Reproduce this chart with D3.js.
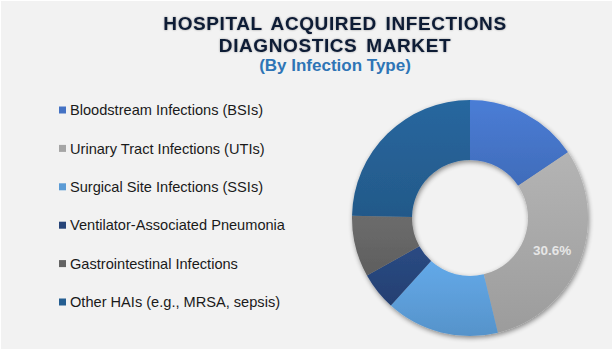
<!DOCTYPE html>
<html><head><meta charset="utf-8">
<script src="https://cdn.jsdelivr.net/npm/d3@7"></script>
<style>html,body{margin:0;padding:0;background:#fff;}svg{display:block;font-family:"Liberation Sans",Arial,sans-serif;}</style>
</head><body>
<svg id="chart" width="613" height="351"></svg>
<script>
const categories = ["Bloodstream Infections (BSIs)", "Urinary Tract Infections (UTIs)", "Surgical Site Infections (SSIs)", "Ventilator-Associated Pneumonia", "Gastrointestinal Infections", "Other HAIs (e.g., MRSA, sepsis)"];
const shares = [15.6, 30.6, 15.5, 5.2, 8.4, 24.7];
const shownLabels = ["", "30.6%", "", "", "", ""];
const colors = ["#4472C4", "#A5A5A5", "#5B9BD5", "#264478", "#636363", "#255E91"];
const titleLines = ["HOSPITAL ACQUIRED INFECTIONS", "DIAGNOSTICS MARKET"];
const subtitle = "(By Infection Type)";

const svg = d3.select("#chart");
svg.append("rect").attr("x", 1).attr("y", 1).attr("width", 611).attr("height", 348).attr("fill", "#F2F2F2");

const defs = svg.append("defs");
const shadow = defs.append("filter").attr("id", "shadow").attr("x", "-20%").attr("y", "-20%").attr("width", "140%").attr("height", "140%");
shadow.append("feGaussianBlur").attr("in", "SourceAlpha").attr("stdDeviation", 2.5);
shadow.append("feOffset").attr("dx", 1).attr("dy", 2).attr("result", "ob");
shadow.append("feComponentTransfer").append("feFuncA").attr("type", "linear").attr("slope", 0.45);
const m = shadow.append("feMerge"); m.append("feMergeNode"); m.append("feMergeNode").attr("in", "SourceGraphic");

const glow = defs.append("filter").attr("id", "glow").attr("x", "-10%").attr("y", "-30%").attr("width", "120%").attr("height", "160%");
glow.append("feGaussianBlur").attr("in", "SourceAlpha").attr("stdDeviation", 1.2);
glow.append("feComponentTransfer").append("feFuncA").attr("type", "linear").attr("slope", 0.35);
const gm = glow.append("feMerge"); gm.append("feMergeNode"); gm.append("feMergeNode").attr("in", "SourceGraphic");

colors.forEach((c, i) => {
  const g = defs.append("linearGradient").attr("id", "g" + i).attr("x1", 0).attr("y1", 0).attr("x2", 0).attr("y2", 1);
  g.append("stop").attr("offset", "0%").attr("stop-color", d3.color(c).brighter(0.25));
  g.append("stop").attr("offset", "100%").attr("stop-color", d3.color(c).darker(0.15));
});

// Title
const title = svg.append("g").attr("filter", "url(#glow)");
titleLines.forEach((t, i) => {
  title.append("text").attr("x", 335).attr("y", 30 + i * 22).attr("text-anchor", "middle")
    .attr("font-size", 19).attr("font-weight", "bold").attr("fill", "#111C36")
    .attr("letter-spacing", 0.6).attr("word-spacing", 3).text(t);
});
svg.append("text").attr("x", 335).attr("y", 71).attr("text-anchor", "middle")
  .attr("font-size", 17).attr("font-weight", "bold").attr("fill", "#2E75B6").text(subtitle);

// Legend
const legend = svg.append("g");
const ly = d3.scalePoint().domain(categories).range([110, 302]);
categories.forEach((c, i) => {
  legend.append("rect").attr("x", 59).attr("y", ly(c) - 3.5).attr("width", 7).attr("height", 7).attr("fill", colors[i]);
  legend.append("text").attr("x", 70).attr("y", ly(c)).attr("dy", "0.35em")
    .attr("font-size", 14.6).attr("fill", "#1a1a1a").text(c);
});

// Donut
const cx = 470, cy = 218, rOuter = 118, rInner = 58;
const pie = d3.pie().sort(null).value(d => d);
const arc = d3.arc().innerRadius(rInner).outerRadius(rOuter);
const arcs = pie(shares);
const donut = svg.append("g").attr("transform", `translate(${cx},${cy})`).attr("filter", "url(#shadow)");
donut.selectAll("path").data(arcs).join("path").attr("d", arc).attr("fill", (d, i) => `url(#g${i})`);
svg.append("g").attr("transform", `translate(${cx},${cy})`)
  .selectAll("text").data(arcs).join("text")
  .attr("transform", d => `translate(${arc.centroid(d)})`)
  .attr("text-anchor", "middle").attr("dy", "0.35em")
  .attr("font-size", 13.5).attr("font-weight", "bold").attr("fill", "#E6E6E6")
  .text((d, i) => shownLabels[i]);
</script>
</body></html>
